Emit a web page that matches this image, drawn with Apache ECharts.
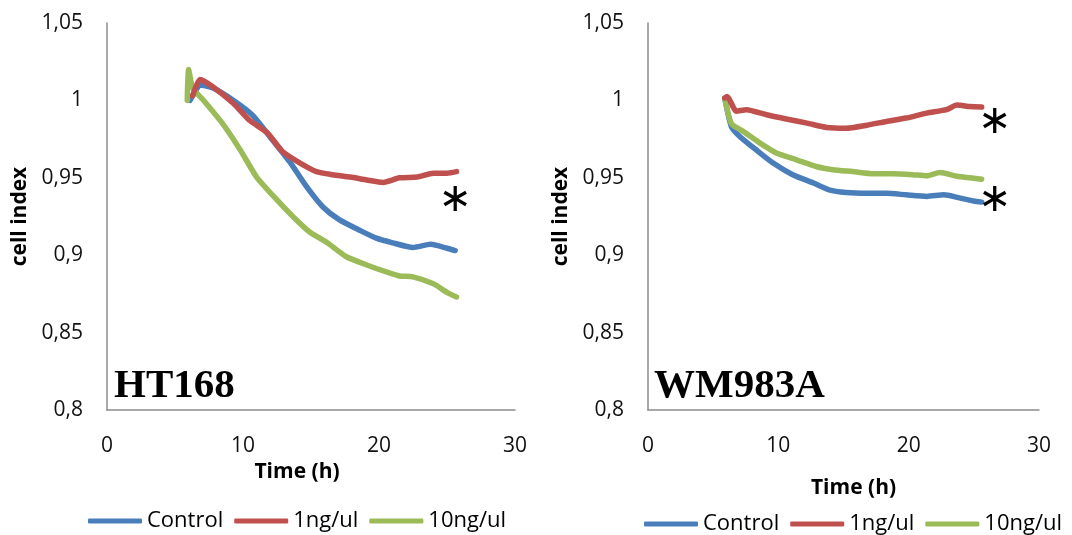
<!DOCTYPE html>
<html>
<head>
<meta charset="utf-8">
<script src="https://cdn.jsdelivr.net/npm/echarts@6/dist/echarts.min.js"></script>
<style>
html,body{margin:0;padding:0;background:#fff;}
#c{width:1072px;height:535px;}
</style>
</head>
<body>
<div id="c"></div>
<script>
// ---- Data (time in h, cell index) ----
var panelTitles = ['HT168', 'WM983A'];
var seriesNames = ['Control', '1ng/ul', '10ng/ul'];
var xTicks = [0, 10, 20, 30];
var yTicks = [0.8, 0.85, 0.9, 0.95, 1, 1.05];

var ht168Control = [[6.1,1.0],[6.5,1.006],[6.84,1.010],[7.8,1.008],[9.3,1.0],[10.7,0.9905],[12.2,0.974],[13.5,0.9595],[14.7,0.944],[15.9,0.931],[17.1,0.9228],[18.6,0.916],[19.8,0.911],[21.0,0.908],[22.5,0.905],[23.8,0.907],[25.0,0.9045],[25.6,0.903]];
var ht168Low = [[6.3,1.003],[6.84,1.0135],[7.8,1.0087],[9.3,0.998],[10.5,0.987],[11.8,0.979],[12.9,0.967],[14.2,0.9595],[15.4,0.954],[16.6,0.952],[17.9,0.9505],[19.1,0.9486],[20.3,0.947],[21.5,0.950],[22.8,0.9505],[24.0,0.953],[25.0,0.953],[25.7,0.954]];
var ht168High = [[5.9,1.0],[6.0,1.02],[6.3,1.008],[7.1,1.0],[8.5,0.985],[9.8,0.968],[11.0,0.9505],[12.5,0.9357],[13.7,0.9247],[14.9,0.915],[16.2,0.908],[17.6,0.899],[19.1,0.8937],[20.6,0.889],[21.5,0.8866],[22.5,0.886],[24.0,0.8815],[25.0,0.876],[25.7,0.873]];

var wm983Control = [[5.89,1.0015],[6.4,0.983],[7.04,0.9767],[8.3,0.968],[9.6,0.9595],[11.1,0.952],[12.7,0.9466],[13.9,0.9422],[15.2,0.9405],[16.8,0.940],[18.3,0.940],[19.8,0.939],[21.4,0.938],[22.7,0.939],[23.9,0.937],[25.0,0.935],[25.6,0.9343]];
var wm983Low = [[5.89,1.0015],[6.07,1.0026],[6.78,0.993],[7.55,0.994],[9.1,0.9907],[10.6,0.988],[12.2,0.9853],[13.7,0.9825],[15.2,0.982],[16.8,0.984],[18.3,0.9864],[19.8,0.9886],[21.4,0.9918],[22.9,0.994],[23.7,0.997],[24.7,0.996],[25.6,0.9957]];
var wm983High = [[5.89,1.0015],[6.4,0.985],[7.3,0.980],[8.6,0.9724],[9.85,0.966],[11.4,0.9616],[12.9,0.9573],[14.2,0.9552],[15.7,0.954],[17.3,0.9526],[18.8,0.9526],[20.3,0.952],[21.4,0.9513],[22.4,0.9534],[23.7,0.951],[24.7,0.950],[25.6,0.9491]];

// significance marks: [panel, seriesIndex, time, value]
var starMarks = [[0, 1, 25.6, 0.9355], [1, 1, 26.6, 0.9855], [1, 0, 26.6, 0.9355]];

var colors = ['#4A7EBB', '#C0504D', '#9BBB59'];
var panelData = [[ht168Control, ht168Low, ht168High], [wm983Control, wm983Low, wm983High]];

var chart = echarts.init(document.getElementById('c'), null, {renderer: 'canvas'});

function yFmt(v) {
  return String(Math.round(v * 100) / 100).replace('.', ',');
}

var grids = [
  {left: 107, top: 23, width: 408, height: 387},
  {left: 648, top: 23, width: 391, height: 387}
];

var axisLineStyle = {color: '#8C8C8C', width: 1.5};
var labelFont = 'Open Sans';

var xAxes = [0, 1].map(function (i) {
  return {
    type: 'value', gridIndex: i, min: 0, max: 30, interval: 10,
    name: 'Time (h)', nameLocation: 'middle',
    nameGap: i === 0 ? 49 : 68,
    nameTextStyle: {fontFamily: labelFont, fontWeight: 'bold', fontSize: 21, color: '#000',
      padding: i === 0 ? [0, 28, 0, 0] : [0, 0, 0, 20]},
    axisLine: {show: true, lineStyle: axisLineStyle},
    axisTick: {show: false},
    splitLine: {show: false},
    axisLabel: {fontFamily: labelFont, fontSize: 21, color: '#111', margin: 26,
      formatter: function (v) { return xTicks.indexOf(v) >= 0 ? String(v) : ''; }}
  };
});

var yAxes = [0, 1].map(function (i) {
  return {
    type: 'value', gridIndex: i, min: 0.8, max: 1.05, interval: 0.05,
    name: 'cell index', nameLocation: 'middle', nameGap: 76, nameRotate: 90,
    nameTextStyle: {fontFamily: labelFont, fontWeight: 'bold', fontSize: 21, color: '#000'},
    axisLine: {show: true, lineStyle: axisLineStyle},
    axisTick: {show: false},
    splitLine: {show: false},
    axisLabel: {fontFamily: labelFont, fontSize: 21, color: '#111', margin: 24,
      formatter: yFmt}
  };
});

var series = [];
panelData.forEach(function (sets, p) {
  sets.forEach(function (d, s) {
    var marks = starMarks.filter(function (m) { return m[0] === p && m[1] === s; })
      .map(function (m) { return {coord: [m[2], m[3]]}; });
    var ser = {
      name: seriesNames[s], type: 'line', xAxisIndex: p, yAxisIndex: p,
      data: d, showSymbol: false, symbol: 'none', smooth: 0.2,
      lineStyle: {color: colors[s], width: 5.5, cap: 'round', join: 'round'},
      itemStyle: {color: colors[s]},
      z: s === 2 ? 3 : (s === 1 ? 4 : 2),
      animation: false
    };
    if (marks.length) {
      ser.markPoint = {
        symbol: 'circle', symbolSize: 1, silent: true, animation: false,
        itemStyle: {color: 'rgba(0,0,0,0)'},
        label: {show: true, position: 'inside', formatter: '\u2217', color: '#000',
          fontSize: 40, fontFamily: 'DejaVu Sans'},
        data: marks
      };
    }
    series.push(ser);
  });
});

var legendCommon = {
  data: seriesNames, itemWidth: 54, itemHeight: 5, itemGap: 11,
  icon: 'roundRect',
  textStyle: {fontFamily: labelFont, fontSize: 22, color: '#000'},
  padding: 0
};

chart.setOption({
  backgroundColor: '#fff',
  animation: false,
  title: [
    {text: panelTitles[0], left: 114, top: 366, padding: 0,
     textStyle: {fontFamily: 'Liberation Serif', fontWeight: 'bold', fontSize: 41, color: '#000'}},
    {text: panelTitles[1], left: 654, top: 366, padding: 0,
     textStyle: {fontFamily: 'Liberation Serif', fontWeight: 'bold', fontSize: 41, color: '#000'}}
  ],
  grid: grids,
  xAxis: xAxes,
  yAxis: yAxes,
  legend: [
    Object.assign({left: 88, top: 510}, legendCommon),
    Object.assign({left: 644, top: 513}, legendCommon)
  ],
  series: series
});
</script>
</body>
</html>
